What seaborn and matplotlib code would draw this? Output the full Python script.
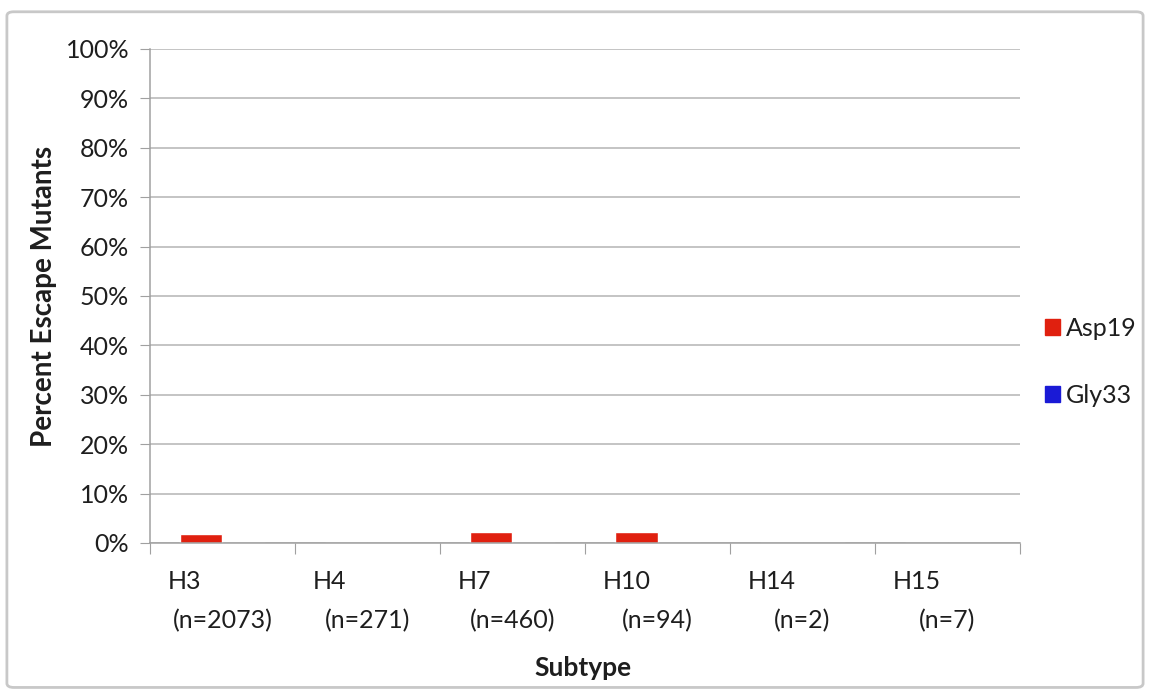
import pandas as pd
import matplotlib.pyplot as plt
import seaborn as sns
from matplotlib.patches import FancyBboxPatch, Patch

# Data (percent of escape mutants)
subtypes = ['H3', 'H4', 'H7', 'H10', 'H14', 'H15']
n_counts = [2073, 271, 460, 94, 2, 7]
asp19 = [1.8, 0.0, 2.3, 2.2, 0.0, 0.0]
gly33 = [0.0, 0.0, 0.0, 0.0, 0.0, 0.0]
mutants = ['Asp19', 'Gly33']
colors = ['#e0200f', '#1a1ad6']

df = pd.DataFrame({
    'subtype': subtypes * 2,
    'mutant': ['Asp19'] * len(subtypes) + ['Gly33'] * len(subtypes),
    'pct': asp19 + gly33,
})

sns.set_style('white')
plt.rcParams['font.family'] = ['Lato', 'DejaVu Sans']
fs = 18
txt_color = '#1e1e1e'

fig = plt.figure(figsize=(11.5, 6.93), dpi=100)
ax = fig.add_axes([0.1304, 0.2165, 0.7566, 0.7128])

sns.barplot(data=df, x='subtype', y='pct', hue='mutant', hue_order=mutants,
            palette=colors, width=0.58, ax=ax, legend=False, saturation=1)

ax.set_ylim(0, 100)
ax.set_xlim(-0.5, len(subtypes) - 0.5)
ax.set_yticks(range(0, 101, 10))
ax.set_yticklabels([f'{v}%' for v in range(0, 101, 10)], fontsize=fs, color=txt_color)
ax.yaxis.grid(True, color='#b4b4b4', linewidth=1.1)
ax.set_axisbelow(True)
ax.tick_params(axis='y', left=True, length=7, color='#a0a0a0', pad=8)

ax.set_xticks([i - 0.5 for i in range(len(subtypes) + 1)])
ax.set_xticklabels([])
ax.tick_params(axis='x', bottom=True, length=8, color='#a0a0a0')

for side in ['top', 'right']:
    ax.spines[side].set_visible(False)
for side in ['left', 'bottom']:
    ax.spines[side].set_color('#a0a0a0')
    ax.spines[side].set_linewidth(1.1)

# Excel-style two-line category labels
tr = ax.get_xaxis_transform()
for i, (s, n) in enumerate(zip(subtypes, n_counts)):
    ax.text(i - 0.38, -0.079, s, transform=tr, ha='left', va='center',
            fontsize=fs, color=txt_color)
    ax.text(i, -0.157, f'(n={n})', transform=tr, ha='center', va='center',
            fontsize=fs, color=txt_color)

ax.set_xlabel('')
ax.set_ylabel('Percent Escape Mutants', fontsize=fs + 2, fontweight='bold',
              labelpad=6, color=txt_color)
fig.text(0.507, 0.036, 'Subtype', ha='center', va='center', fontsize=fs + 1,
         fontweight='bold', color=txt_color)

handles = [Patch(facecolor=c, edgecolor=c) for c in colors]
fig.legend(handles, mutants, loc='center left', bbox_to_anchor=(0.889, 0.478),
           frameon=False, fontsize=fs, handlelength=0.6, handleheight=0.6,
           handletextpad=0.25, labelspacing=1.75, labelcolor=txt_color)

# chart border
fig.patches.append(FancyBboxPatch((0.006, 0.008), 0.988, 0.975,
                                  boxstyle='round,pad=0,rounding_size=0.006',
                                  transform=fig.transFigure, fill=False,
                                  edgecolor='#c8c8c8', linewidth=2))

fig.savefig('out.png', dpi=100)
